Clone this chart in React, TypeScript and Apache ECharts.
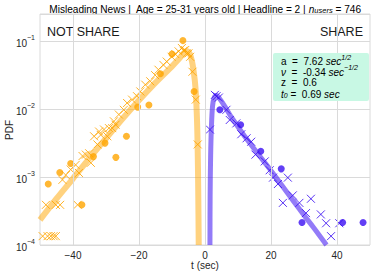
import React, { useEffect, useRef } from "react";
import * as echarts from "echarts";

// ---------- data (t in sec, PDF) ----------
const orangeDots: [number, number][] = [
  [-47.5, 7.9e-4], [-44, 1.17e-3], [-40.7, 1.58e-3], [-37.3, 3.9e-4], [-33.8, 2.0e-3],
  [-30.3, 3.16e-3], [-27, 1.95e-3], [-23.8, 3.98e-3], [-20.4, 1.07e-2], [-17, 1.15e-2],
  [-13.5, 3.31e-2], [-10, 6.46e-2], [-6.7, 1.02e-1], [-3.3, 1.82e-2],
];
const orangeCrosses: [number, number][] = [
  [-49.2, 1.35e-4], [-47.7, 1.35e-4], [-46.7, 1.35e-4], [-45.9, 1.35e-4], [-45.2, 1.35e-4],
  [-48.2, 3.9e-4], [-45.2, 3.9e-4], [-43.9, 3.9e-4], [-38.6, 3.9e-4],
  [-43.2, 9.1e-4], [-42.2, 1.07e-3], [-40.7, 1.29e-3], [-39.2, 1.51e-3], [-38.2, 1.15e-3],
  [-37.1, 2.04e-3], [-36.1, 2.14e-3], [-35.1, 2.24e-3], [-34.6, 1.62e-3], [-33.6, 3.98e-3],
  [-32.6, 3.02e-3], [-32.1, 4.68e-3], [-31.6, 4.17e-3], [-30.6, 5.01e-3], [-29.6, 3.98e-3],
  [-29.1, 5.25e-3], [-28.1, 5.25e-3], [-27.6, 6.61e-3], [-27.1, 5.89e-3], [-26.1, 8.32e-3],
  [-24.6, 9.77e-3], [-23.6, 1.23e-2], [-22.1, 1.38e-2], [-20.6, 1.55e-2], [-19.6, 1.82e-2],
  [-18.1, 2.29e-2], [-16.6, 2.57e-2], [-15.1, 3.16e-2], [-14.1, 3.8e-2], [-12.6, 4.47e-2],
  [-11.6, 5.01e-2], [-10.1, 5.89e-2], [-9, 6.46e-2], [-8, 7.08e-2], [-7, 7.94e-2],
  [-6.5, 7.24e-2], [-6, 7.41e-2], [-5.5, 6.61e-2], [-5, 6.61e-2], [-4.5, 5.89e-2],
  [-3.8, 3.55e-2], [-2.8, 1.38e-2], [-2.2, 3.02e-3],
];
const orangeFit: [number, number][] = [
  [-50, 2.34e-4], [-45, 4.8e-4], [-40, 9.5e-4], [-35, 1.9e-3], [-30, 3.7e-3], [-25, 7.2e-3],
  [-20, 1.35e-2], [-15, 2.45e-2], [-10, 4.27e-2], [-8, 5.4e-2], [-6.5, 6.6e-2], [-5.5, 7.1e-2],
  [-4.6, 6.5e-2], [-4, 5.2e-2], [-3.4, 3.5e-2], [-2.9, 2.1e-2], [-2.5, 8.9e-3], [-2.25, 3.2e-3],
  [-2.05, 6.3e-4], [-1.9, 1e-4],
];
const purpleDots: [number, number][] = [
  [4.5, 9.77e-3], [10.8, 5.89e-3], [16.9, 2.4e-3], [23.1, 1.32e-3], [29.4, 2.14e-4],
  [41.7, 2.14e-4], [47.9, 2.14e-4],
];
const purpleCrosses: [number, number][] = [
  [1.5, 5.0e-3], [3.0, 1.62e-2], [3.5, 1.55e-2], [4.2, 1.48e-2], [6.5, 9.77e-3], [7.5, 6.92e-3],
  [9.5, 6.17e-3], [11, 4.27e-3], [12.6, 3.72e-3], [14, 3.31e-3], [15.3, 2.14e-3], [18.1, 1.7e-3],
  [19.6, 1.26e-3], [20.6, 9.8e-4], [22.1, 7.9e-4], [23.6, 4.17e-4], [25.1, 9.8e-4], [26.6, 5.37e-4],
  [28.6, 4.17e-4], [30.6, 2.95e-4], [32.1, 4.79e-4], [35.1, 2.82e-4], [36.7, 2.09e-4],
  [38.2, 1.35e-4], [40.7, 2.09e-4],
];
const purpleFit: [number, number][] = [
  [1.5, 1e-4], [1.55, 5e-4], [1.7, 2e-3], [1.95, 5.6e-3], [2.3, 1.12e-2], [2.8, 1.48e-2],
  [3.5, 1.58e-2], [4.5, 1.41e-2], [6, 1.1e-2], [8, 7.6e-3], [10, 5.5e-3], [12, 3.98e-3],
  [15, 2.57e-3], [18, 1.66e-3], [21, 1.07e-3], [24, 6.8e-4], [27, 4.3e-4], [30, 2.75e-4],
  [33, 1.78e-4], [36.8, 1e-4],
];
const xTicks = [-40, -20, 0, 20, 40];
const xMin = -50;
const xMax = 50;
const yMin = 1e-4;
const yMax = 0.2512;

const titleText =
  "{r|Misleading News |  Age = 25-31 years old | Headline = 2 | }{i|n}{sub|users}{r| = 746}";
const paramLines = [
  "{r|a  =  7.62 }{i|sec}{sup|1/2}",
  "{i|ν}{r|  =  -0.34 }{i|sec}{sup|−1/2}",
  "{r|z  =  0.6}",
  "{i|t}{sub|0}{r| =  0.69 }{i|sec}",
];

const ORANGE = "#ffa500";
const PURPLE = "#3b0ff2";
const FONT = "Liberation Sans, Arial, sans-serif";
const CROSS = "path://M0 0L10 10M10 0L0 10";

export default function App() {
  const ref = useRef<HTMLDivElement>(null);
  useEffect(() => {
    document.body.style.margin = "0";
    if (!ref.current) return;
    const chart = echarts.init(ref.current, undefined, { renderer: "svg" });
    const rich = {
      r: { fontSize: 10, fontFamily: FONT, color: "#262626", lineHeight: 13, verticalAlign: "bottom" },
      i: { fontSize: 10, fontFamily: FONT, fontStyle: "italic", color: "#262626", lineHeight: 13, verticalAlign: "bottom" },
      sup: { fontSize: 7, fontFamily: FONT, fontStyle: "italic", color: "#262626", lineHeight: 13, verticalAlign: "top" },
      sub: { fontSize: 7, fontFamily: FONT, fontStyle: "italic", color: "#262626", lineHeight: 15, verticalAlign: "bottom" },
    };
    const titleRich = {
      r: { ...rich.r, fontSize: 10.1, fontStyle: "normal" },
      i: { ...rich.i, fontSize: 10.1 },
      sub: { ...rich.sub, fontSize: 7.5 },
    };
    chart.setOption({
      animation: false,
      grid: { left: 40, right: 4, top: 14, bottom: 30, show: true, borderColor: "#dadada", borderWidth: 1, backgroundColor: "transparent" },
      xAxis: {
        type: "value",
        min: xMin,
        max: xMax,
        interval: 10,
        axisLine: { show: false },
        axisTick: { show: false },
        splitLine: { show: false },
        axisLabel: {
          fontSize: 10,
          fontFamily: FONT,
          color: "#262626",
          margin: 5,
          formatter: (v: number) =>
            xTicks.includes(v) ? (v < 0 ? "−" + String(-v) : String(v)) : "",
        },
      },
      yAxis: {
        type: "log",
        logBase: 10,
        min: yMin,
        max: yMax,
        axisLine: { show: false },
        axisTick: { show: false },
        splitLine: { show: true, lineStyle: { color: "#dadada", width: 1 } },
        axisLabel: {
          fontFamily: FONT,
          margin: 5,
          formatter: (v: number) => {
            const l = Math.log10(v);
            const e = Math.round(l);
            if (Math.abs(l - e) > 0.01) return "";
            return "{b|10}{s|−" + String(-e) + "}";
          },
          rich: {
            b: { fontSize: 10, fontFamily: FONT, color: "#262626", lineHeight: 14, verticalAlign: "bottom" },
            s: { fontSize: 7, fontFamily: FONT, color: "#262626", lineHeight: 14, verticalAlign: "top" },
          },
        },
      },
      series: [
        {
          type: "line",
          data: [],
          z: 1,
          silent: true,
          markLine: {
            silent: true,
            symbol: ["none", "none"],
            label: { show: false },
            lineStyle: { color: "#dadada", width: 1, type: "solid" },
            data: xTicks.map((x) => ({ xAxis: x })),
          },
        },
        {
          type: "line",
          data: orangeFit,
          z: 2,
          symbol: "none",
          smooth: 0.3,
          lineStyle: { color: ORANGE, width: 6, opacity: 0.5 },
        },
        {
          type: "line",
          data: purpleFit,
          z: 2,
          symbol: "none",
          smooth: 0.3,
          lineStyle: { color: PURPLE, width: 5, opacity: 0.55 },
        },
        {
          type: "scatter",
          data: orangeCrosses,
          z: 3,
          symbol: CROSS,
          symbolSize: 8,
          itemStyle: { color: "none", borderColor: ORANGE, borderWidth: 1, opacity: 0.85 },
        },
        {
          type: "scatter",
          data: purpleCrosses,
          z: 3,
          symbol: CROSS,
          symbolSize: 8,
          itemStyle: { color: "none", borderColor: PURPLE, borderWidth: 1, opacity: 0.85 },
        },
        {
          type: "scatter",
          data: orangeDots,
          z: 4,
          symbol: "circle",
          symbolSize: 7,
          itemStyle: { color: ORANGE },
        },
        {
          type: "scatter",
          data: purpleDots,
          z: 4,
          symbol: "circle",
          symbolSize: 7,
          itemStyle: { color: PURPLE },
        },
      ],
      graphic: [
        {
          type: "text",
          x: 205,
          y: 7,
          style: { text: titleText, rich: titleRich, align: "center", verticalAlign: "middle" },
        },
        {
          type: "text",
          x: 47,
          y: 32,
          style: { text: "NOT SHARE", fontSize: 12.5, fontFamily: FONT, fill: "#1a1a1a", align: "left", verticalAlign: "middle" },
        },
        {
          type: "text",
          x: 363,
          y: 32,
          style: { text: "SHARE", fontSize: 12.5, fontFamily: FONT, fill: "#1a1a1a", align: "right", verticalAlign: "middle" },
        },
        {
          type: "rect",
          shape: { x: 273, y: 53, width: 96, height: 48, r: 2 },
          style: { fill: "#c8f8e4" },
          z: 10,
        },
        ...paramLines.map((t, i) => ({
          type: "text",
          x: 281,
          y: 60 + i * 10.6,
          z: 11,
          style: { text: t, rich, align: "left", verticalAlign: "middle" },
        })),
        {
          type: "text",
          x: 9,
          y: 130,
          rotation: Math.PI / 2,
          style: { text: "PDF", fontSize: 10, fontFamily: FONT, fill: "#262626", align: "center", verticalAlign: "middle" },
        },
        {
          type: "text",
          x: 205,
          y: 265,
          style: { text: "t (sec)", fontSize: 10, fontFamily: FONT, fill: "#262626", align: "center", verticalAlign: "middle" },
        },
      ],
    });
    return () => chart.dispose();
  }, []);
  return <div ref={ref} style={{ width: 374, height: 275 }} />;
}
